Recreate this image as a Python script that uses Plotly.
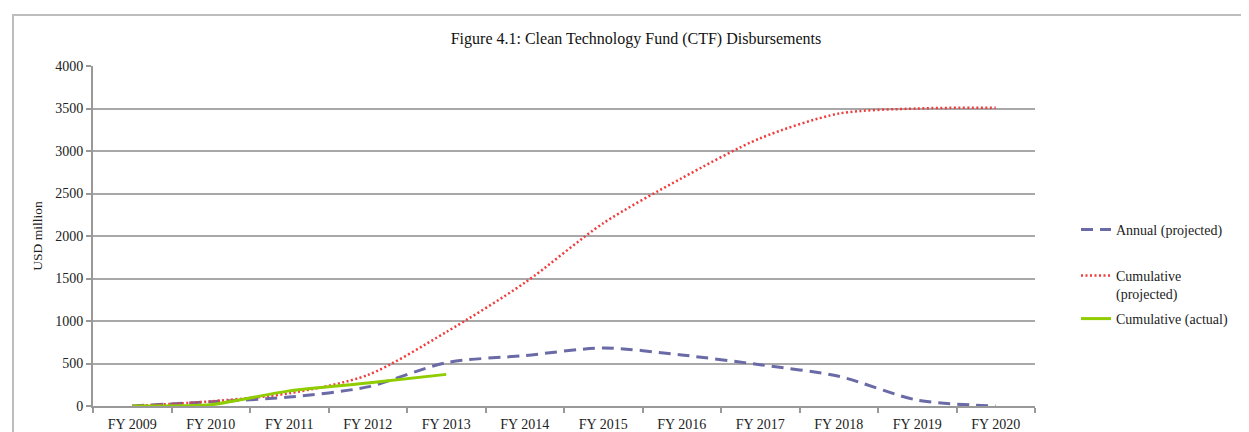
import plotly.graph_objects as go

categories = ["FY 2009", "FY 2010", "FY 2011", "FY 2012", "FY 2013", "FY 2014",
              "FY 2015", "FY 2016", "FY 2017", "FY 2018", "FY 2019", "FY 2020"]
annual_projected = [0, 50, 105, 225, 510, 593, 682, 600, 485, 349, 70, 0]
cumulative_projected = [0, 55, 150, 365, 870, 1450, 2150, 2680, 3150, 3440, 3500, 3510]
actual_categories = ["FY 2009", "FY 2010", "FY 2011", "FY 2012", "FY 2013"]
cumulative_actual = [0, 15, 178, 270, 372]
y_ticks = [0, 500, 1000, 1500, 2000, 2500, 3000, 3500, 4000]

# page has an 8px body margin; figure coordinates are page coordinates minus 8
OFF = 8
W, H = 1249 - OFF, 432 - OFF
ML, MT = 93 - OFF, 66 - OFF
PR, PB = 1035 - OFF, 406 - OFF
MR, MB = W - PR, H - PB
pw = PR - ML
ph = PB - MT

serif = "Liberation Serif, Times New Roman, serif"


def py(page_y):
    return (PB - (page_y - OFF)) / ph


def px(page_x):
    return ((page_x - OFF) - ML) / pw


fig = go.Figure()
fig.add_trace(go.Scatter(
    x=categories, y=annual_projected, mode="lines", name="Annual (projected)",
    line=dict(color="#6a6aa6", width=3, dash="12px,7px", shape="spline", smoothing=0.8),
    legend="legend",
))
fig.add_trace(go.Scatter(
    x=categories, y=cumulative_projected, mode="lines", name="Cumulative<br>(projected)",
    line=dict(color="#f03c3c", width=2.5, dash="2px,2.5px", shape="spline", smoothing=0.8),
    legend="legend2",
))
fig.add_trace(go.Scatter(
    x=actual_categories, y=cumulative_actual, mode="lines", name="Cumulative (actual)",
    line=dict(color="#8fcc00", width=3, shape="spline", smoothing=0.5),
    legend="legend3",
))

leg_common = dict(xanchor="left", yanchor="top", font=dict(family=serif, size=14, color="#222"),
                  itemwidth=30, bgcolor="rgba(0,0,0,0)", valign="top")

fig.update_layout(
    width=W, height=H,
    margin=dict(l=ML, r=MR, t=MT, b=MB, autoexpand=False),
    paper_bgcolor="white", plot_bgcolor="white",
    font=dict(family=serif, size=14, color="#222"),
    title=dict(text="Figure 4.1: Clean Technology Fund (CTF) Disbursements",
               x=(636 - OFF) / W, xref="container", xanchor="center",
               y=1 - (38 - OFF) / H, yref="container", yanchor="middle",
               font=dict(family=serif, size=16, color="#111")),
    showlegend=True,
    legend=dict(x=px(1076), y=py(214), **leg_common),
    legend2=dict(x=px(1076), y=py(260), **leg_common),
    legend3=dict(x=px(1076), y=py(303), **leg_common),
    xaxis=dict(
        type="category", categoryorder="array", categoryarray=categories,
        range=[-0.5, 11.5], showgrid=False, showline=True, linecolor="#999",
        linewidth=2, ticks="outside", tickson="boundaries", ticklen=5,
        tickcolor="#999", tickwidth=1.5, tickfont=dict(family=serif, size=14, color="#222"),
        zeroline=False, automargin=False, ticklabelstandoff=4,
    ),
    yaxis=dict(
        range=[0, 4000], tickvals=y_ticks, showgrid=True, gridcolor="#a8a8a8",
        gridwidth=1.5, showline=True, linecolor="#999", linewidth=2,
        ticks="outside", ticklen=5, tickcolor="#999", tickwidth=1.5,
        tickfont=dict(family=serif, size=14, color="#222"), zeroline=False,
        automargin=False,
        title=dict(text="USD million", font=dict(family=serif, size=13.5, color="#222"),
                   standoff=9),
    ),
    shapes=[dict(type="rect", xref="paper", yref="paper",
                 x0=px(13), x1=px(1280),
                 y0=py(460), y1=py(15),
                 line=dict(color="#bdbdbd", width=2), fillcolor="rgba(0,0,0,0)",
                 layer="below")],
)

fig.write_html("out.html")
